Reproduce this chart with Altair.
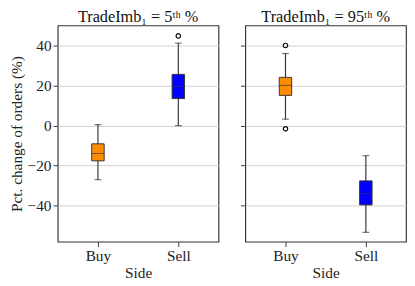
import altair as alt
import pandas as pd

sides = ["Buy", "Sell"]
colors = ["#FF8C00", "#0000FF"]

# panel 1: TradeImb = 5th %
p1_lo = [-27.0, 0.0]
p1_q1 = [-17.6, 13.5]
p1_med = [-13.9, 19.6]
p1_q3 = [-9.1, 25.6]
p1_hi = [0.5, 41.2]
p1_out_side = ["Sell"]
p1_out_val = [44.8]

# panel 2: TradeImb = 95th %
p2_lo = [3.2, -53.3]
p2_q1 = [15.1, -39.6]
p2_med = [20.1, -34.0]
p2_q3 = [24.1, -27.6]
p2_hi = [36.0, -15.0]
p2_out_side = ["Buy", "Buy"]
p2_out_val = [40.0, -1.6]

titles = ["TradeImb\u2081 = 5\u1d57\u02b0 %", "TradeImb\u2081 = 95\u1d57\u02b0 %"]

FONT = "Liberation Serif"
EDGE = "#333333"


def panel(lo, q1, med, q3, hi, out_side, out_val, title, first):
    box = pd.DataFrame({"side": sides, "lo": lo, "q1": q1, "med": med,
                        "q3": q3, "hi": hi, "color": colors})
    outs = pd.DataFrame({"side": out_side, "val": out_val})
    xenc = alt.X("side:N", scale=alt.Scale(type="point", padding=0.5, domain=sides),
                 axis=alt.Axis(title="Side", labelAngle=0, labelFont=FONT, titleFont=FONT,
                               labelFontSize=16, titleFontSize=16, labelColor="#222",
                               titleColor="#222", titleFontWeight="normal",
                               tickColor=EDGE, tickSize=5, domain=False,
                               gridColor="#d0d0d0", labelPadding=2, titlePadding=1))
    yaxis = alt.Axis(values=[-40, -20, 0, 20, 40], labelFont=FONT, titleFont=FONT,
                     labelFontSize=16, titleFontSize=16, labelColor="#222",
                     titleColor="#222", titleFontWeight="normal",
                     tickColor=EDGE, tickSize=5, domain=False, gridColor="#d0d0d0",
                     labels=first, title="Pct. change of orders (%)" if first else None,
                     labelPadding=2, titlePadding=3)
    yscale = alt.Scale(domain=[-58, 50], nice=False, zero=False)
    base = alt.Chart(box)
    whisk = base.mark_rule(color=EDGE, strokeWidth=1.2).encode(
        x=xenc, y=alt.Y("lo:Q", scale=yscale, axis=yaxis), y2="hi:Q")
    cap_lo = base.mark_tick(color=EDGE, size=7, thickness=1.2).encode(
        x=xenc, y=alt.Y("lo:Q", scale=yscale))
    cap_hi = base.mark_tick(color=EDGE, size=7, thickness=1.2).encode(
        x=xenc, y=alt.Y("hi:Q", scale=yscale))
    bars = base.mark_bar(size=13, stroke=EDGE, strokeWidth=1).encode(
        x=xenc, y=alt.Y("q1:Q", scale=yscale), y2="q3:Q",
        color=alt.Color("color:N", scale=None))
    medl = base.mark_tick(color=EDGE, size=13, thickness=1).encode(
        x=xenc, y=alt.Y("med:Q", scale=yscale))
    pts = alt.Chart(outs).mark_point(shape="circle", filled=False, color="black",
                                     size=22, strokeWidth=1.2, opacity=1).encode(
        x=xenc, y=alt.Y("val:Q", scale=yscale))
    return alt.layer(whisk, cap_lo, cap_hi, bars, medl, pts).properties(
        width=168, height=226,
        title=alt.TitleParams(title, font=FONT, fontSize=17, fontWeight="normal",
                              color="#111", offset=0))


c1 = panel(p1_lo, p1_q1, p1_med, p1_q3, p1_hi, p1_out_side, p1_out_val, titles[0], True)
c2 = panel(p2_lo, p2_q1, p2_med, p2_q3, p2_hi, p2_out_side, p2_out_val, titles[1], False)

chart = alt.hconcat(c1, c2, spacing=20).configure_view(
    stroke=EDGE, strokeWidth=1.2
).properties(
    padding={"left": 0, "top": -7, "right": 0, "bottom": 0},
)

chart.save("out.html", embed_options={"renderer": "svg", "actions": False})
